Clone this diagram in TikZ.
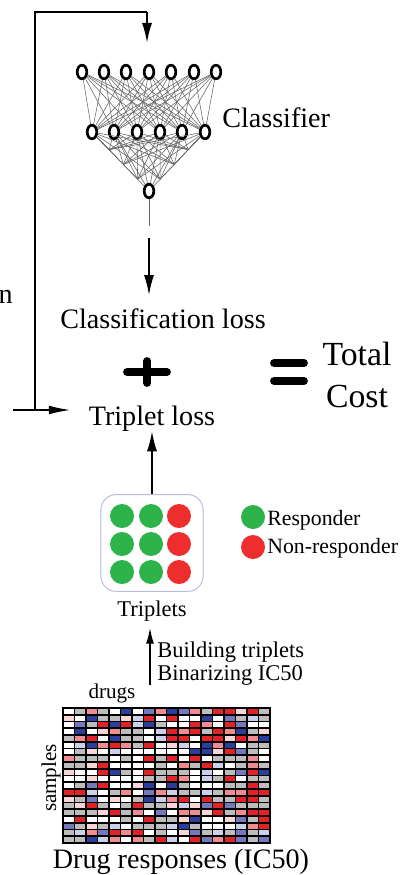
\documentclass[tikz,border=0pt]{standalone}
\usepackage{fontspec}
\setmainfont{Liberation Serif}
\usetikzlibrary{arrows.meta, positioning, calc, shapes.geometric}
\definecolor{respgreen}{HTML}{2DB34A}
\definecolor{nonred}{HTML}{EE2E2E}
\definecolor{boxedge}{HTML}{B9BDE2}
\definecolor{hmred}{HTML}{E32228}
\definecolor{hmlred}{HTML}{F08C90}
\definecolor{hmpink}{HTML}{F8D6D8}
\definecolor{hmblue}{HTML}{2B3E9C}
\definecolor{hmlblue}{HTML}{7478BC}
\definecolor{hmpblue}{HTML}{CDD0EA}
\definecolor{hmgray}{HTML}{BDBDBD}
\colorlet{hm0}{hmgray}
\colorlet{hm1}{hmgray}
\colorlet{hm2}{hmgray}
\colorlet{hm3}{white}
\colorlet{hm4}{white}
\colorlet{hm5}{white}
\colorlet{hm6}{hmred}
\colorlet{hm7}{hmred}
\colorlet{hm8}{hmlred}
\colorlet{hm9}{hmpink}
\colorlet{hm10}{hmblue}
\colorlet{hm11}{hmlblue}
\colorlet{hm12}{hmpblue}

\begin{document}
\begin{tikzpicture}[
    x=0.025cm, y=-0.025cm,
    neuron/.style={ellipse, draw, line width=1.9pt, fill=white, minimum width=0.24cm, minimum height=0.34cm, inner sep=0pt},
    link/.style={draw=black!60, line width=0.4pt},
    flow/.style={-{Latex[length=5mm, width=2.5mm]}, line width=1.1pt},
    fb/.style={line width=1.4pt},
    lbl/.style={font=\fontsize{20}{24}\selectfont, inner sep=0pt},
    small/.style={font=\fontsize{16}{16.5}\selectfont, inner sep=0pt},
    legend/.style={font=\fontsize{15.5}{16}\selectfont, inner sep=0pt, anchor=base west},
    dot/.style={circle, minimum size=0.6cm, inner sep=0pt},
    hmcell/.style={draw=black, line width=1.3pt}
]
    \useasboundingbox (0,0) rectangle (400,875);

    \foreach \i/\x in {1/82,2/104,3/126,4/149,5/171,6/194,7/216}
        \node[neuron] (t\i) at (\x,72) {};
    \foreach \i/\x in {1/92,2/114,3/137,4/160,5/182,6/205}
        \node[neuron] (m\i) at (\x,132) {};
    \node[neuron] (out) at (149,191) {};

    \foreach \i in {1,...,7}
        \foreach \j in {1,...,6}
            \draw[link] (t\i) -- (m\j);
    \foreach \j in {1,...,6} {
        \draw[link] (m\j) -- (out);
        \foreach \t in {0.3,0.55,0.8} {
            \draw[link] (m\j) -- ($(m1)!\t!(out)$);
            \draw[link] (m\j) -- ($(m6)!\t!(out)$);
        }
    }
    \coordinate (netend) at (149,226);
    \draw[link, line width=0.5pt] (out) -- (netend);
    \node[lbl, anchor=base west] (clf) at (222,127) {Classifier};

    \node[lbl, anchor=base] (closs) at (163,328) {Classification loss};
    \coordinate (arrtop) at (149,238);
    \draw[flow, shorten >=0.32cm] (arrtop) -- (arrtop |- closs.north);

    \draw[line width=5.5pt, line cap=round] (127,372) -- (167,372) (147,361) -- (147,383);
    \draw[line width=5.5pt, line cap=round] (274,363) -- (304,363) (274,381) -- (304,381);
    \node[font=\fontsize{24}{30}\selectfont, align=center, inner sep=0pt] (total) at (357,375) {Total\\Cost};

    \node[lbl, anchor=base] (tloss) at (152,425) {Triplet loss};

    \coordinate (fbstart) at (13,410);
    \coordinate (fbfoot) at (35,410);
    \coordinate (fbcorner) at (35,12);
    \coordinate (fbtop) at (147,12);
    \coordinate (netin) at (147,43);
    \draw[fb] (fbfoot) -- (fbcorner) -- (fbtop);
    \draw[fb, -{Latex[length=5mm, width=2.5mm]}] (fbtop) -- (netin);
    \draw[fb, -{Latex[length=5.5mm, width=2.2mm]}, shorten >=0.44cm] (fbstart) -- (fbstart -| tloss.west);
    \node[lbl, anchor=base east] (leftcut) at (13,303) {n};

    \node[draw=boxedge, line width=0.7pt, rounded corners=0.38cm, minimum width=2.55cm, minimum height=2.42cm] (trip) at (152,543) {};
    \foreach \r/\y in {1/516,2/544,3/572} {
        \node[dot, fill=respgreen] (a\r) at (122,\y) {};
        \node[dot, fill=respgreen] (p\r) at (151,\y) {};
        \node[dot, fill=nonred] (n\r) at (179,\y) {};
    }
    \draw[flow] (trip.north) -- (tloss.south);
    \node[small, below=0.22cm of trip] (triplab) {Triplets};

    \node[dot, fill=respgreen] (legr) at (253,517) {};
    \node[legend] at (267,525) {Responder};
    \node[dot, fill=nonred] (legn) at (253,547) {};
    \node[legend] at (267,553) {Non-responder};

    \coordinate (hmtop) at (150,685);
    \draw[-{Latex[length=4mm, width=2mm]}, line width=1.1pt, shorten >=0.15cm] (hmtop) -- (hmtop |- triplab.south);
    \node[small, anchor=base west] at (157,657) {Building triplets};
    \node[small, anchor=base west] at (157,680) {Binarizing IC50};

    \pgfmathsetseed{42}
    \foreach \r in {0,...,19}
        \foreach \c in {0,...,17} {
            \pgfmathrandominteger{\k}{0}{12}
            \draw[hmcell, fill=hm\k] (63+\c*11.5,708+\r*6.75) rectangle ++(11.5,6.75);
        }
    \node[font=\fontsize{15}{16}\selectfont, inner sep=0pt, anchor=base] (drugs) at (112,698) {drugs};
    \node[font=\fontsize{15}{16}\selectfont, inner sep=0pt, anchor=base, rotate=90] (samples) at (56,778) {samples};
    \node[lbl, anchor=base] (resp) at (181,868) {Drug responses (IC50)};
\end{tikzpicture}
\end{document}
